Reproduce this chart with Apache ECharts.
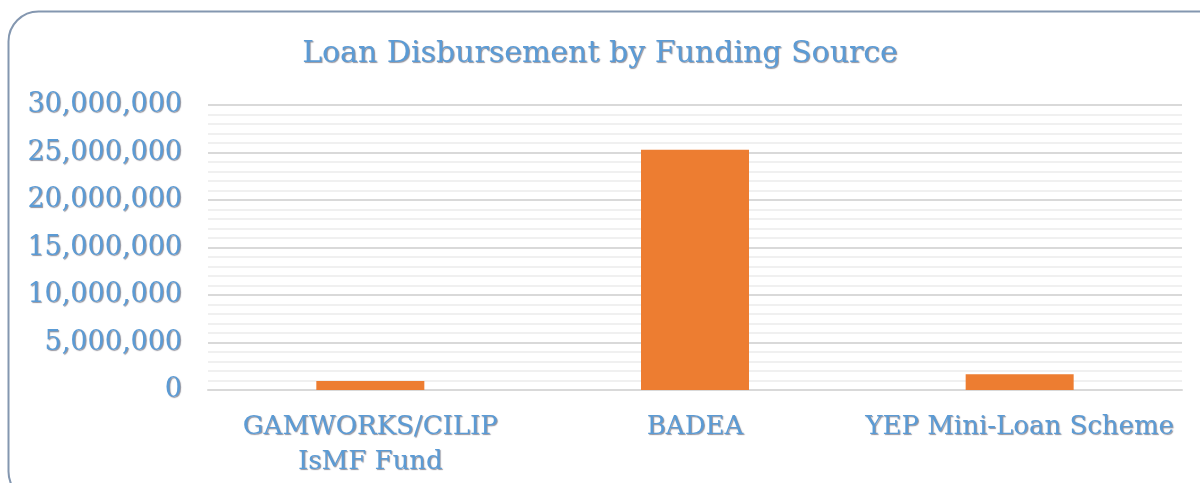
<!DOCTYPE html>
<html>
<head>
<meta charset="utf-8">
<script src="https://cdn.jsdelivr.net/npm/echarts@6/dist/echarts.min.js"></script>
<style>html,body{margin:0;padding:0;background:#fff;}#c{width:1200px;height:483px;}</style>
</head>
<body>
<div id="c"></div>
<script>
const titleText = 'Loan Disbursement by Funding Source';
const categories = ['GAMWORKS/CILIP\nIsMF Fund', 'BADEA', 'YEP Mini-Loan Scheme'];
const disbursed = [950000, 25300000, 1650000];
const yTicks = { min: 0, max: 30000000, interval: 5000000 };

const blue = '#5B9BD5';
const shadow = { textShadowColor: 'rgba(40,40,60,0.5)', textShadowOffsetX: 1, textShadowOffsetY: 1, textShadowBlur: 1 };
const chart = echarts.init(document.getElementById('c'));
chart.setOption({
  animation: false,
  backgroundColor: '#fff',
  graphic: [{
    type: 'rect', shape: { x: 8.5, y: 11.5, width: 1220, height: 490, r: 30 },
    style: { fill: 'none', stroke: '#8497B0', lineWidth: 2 }, z: -1
  }],
  title: {
    text: titleText, left: 'center', top: 34,
    textStyle: Object.assign({ fontFamily: 'DejaVu Serif', fontSize: 30, fontWeight: 'normal', color: blue }, shadow)
  },
  grid: { left: 208, right: 18, top: 105, bottom: 93 },
  xAxis: {
    type: 'category', data: categories,
    axisLine: { lineStyle: { color: '#d9d9d9', width: 2 } },
    axisTick: { show: false },
    axisLabel: Object.assign({ fontFamily: 'DejaVu Serif', fontSize: 26, color: blue, margin: 20, lineHeight: 35, interval: 0 }, shadow)
  },
  yAxis: {
    type: 'value', min: yTicks.min, max: yTicks.max, interval: yTicks.interval,
    axisLine: { show: false }, axisTick: { show: false },
    axisLabel: Object.assign({ fontFamily: 'DejaVu Serif', fontSize: 27, color: blue, margin: 26,
      formatter: v => v.toLocaleString('en-US') }, shadow),
    splitLine: { lineStyle: { color: '#d9d9d9', width: 2 } },
    minorTick: { show: false, splitNumber: 5 },
    minorSplitLine: { show: true, lineStyle: { color: '#f0f0f0', width: 2 } }
  },
  series: [{
    type: 'bar', data: disbursed, barWidth: 108,
    itemStyle: { color: '#ED7D31' }
  }]
});
</script>
</body>
</html>
